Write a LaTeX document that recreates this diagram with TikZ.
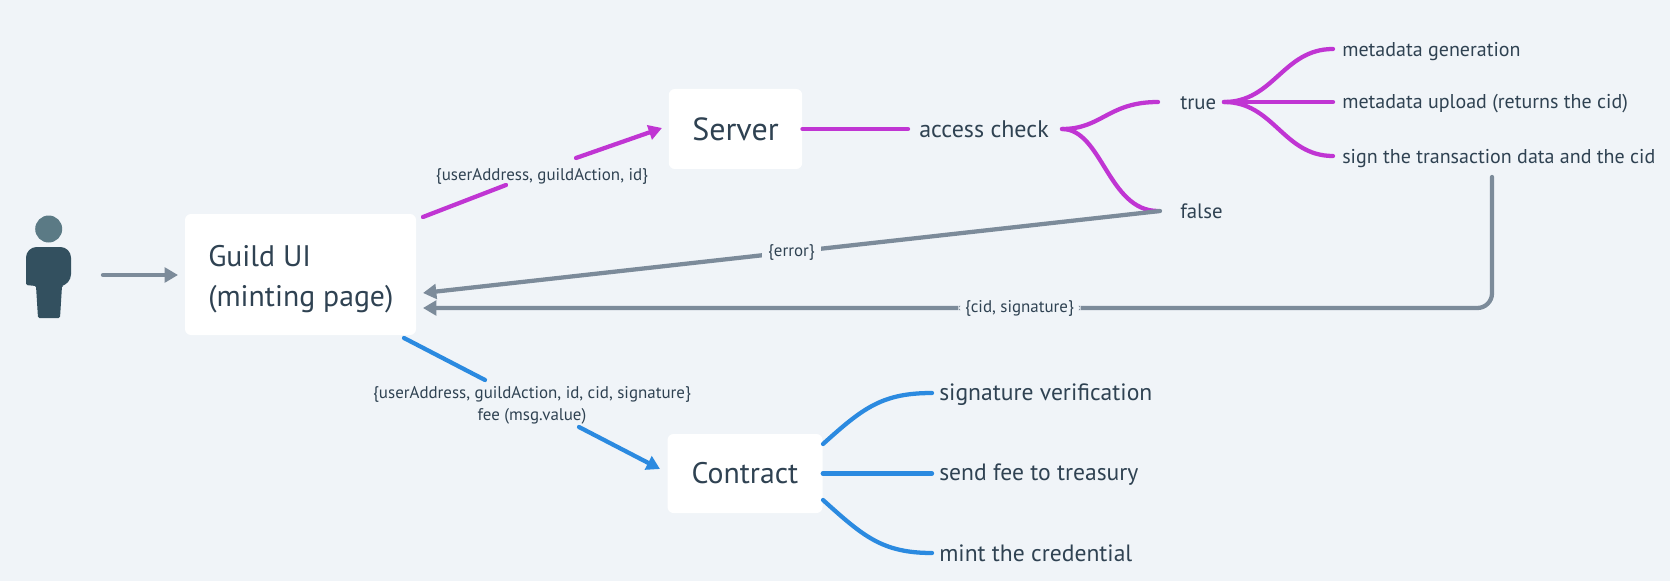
\documentclass[tikz,border=0pt]{standalone}
\usepackage{fontspec}
\setmainfont{PT Sans}
\usetikzlibrary{arrows.meta}
\definecolor{bgc}{HTML}{F0F4F8}
\definecolor{txt}{HTML}{2F4252}
\definecolor{mag}{HTML}{C035D3}
\definecolor{blu}{HTML}{2B8AE0}
\definecolor{gry}{HTML}{7C8B9A}
\definecolor{head}{HTML}{5B7A85}
\definecolor{bod}{HTML}{33505F}
\tikzset{
  x=0.75pt,y=-0.75pt,
  box/.style={fill=white,rounded corners=4.5pt,inner sep=0pt,text=txt},
  big/.style={font=\fontsize{22.3}{30}\selectfont},
  item/.style={anchor=west,inner sep=0pt,text=txt,font=\fontsize{17.7}{21}\selectfont},
  small/.style={anchor=west,inner sep=0pt,text=txt,font=\fontsize{15}{19}\selectfont},
  lab/.style={inner sep=0pt,text=txt,align=center,font=\fontsize{12.7}{16.5}\selectfont},
  gaplab/.style={lab,fill=bgc,inner xsep=5pt,inner ysep=1pt},
  conn/.style={line width=3.2pt,line cap=round},
  tip/.style={-{Triangle[length=10pt,width=11pt]}},
  wire/.style={conn,mag},
  bwire/.style={conn,blu},
  gwire/.style={conn,gry},
}
\begin{document}
\begin{tikzpicture}
\useasboundingbox[fill=bgc] (0,0) rectangle (1670,581);
% person
\fill[head] (48.7,229) circle[radius=13.5];
\fill[bod,rounded corners=8pt] (26,285) -- (26,247) -- (71,247) -- (71,285) [rounded corners=1pt] -- (62,286) -- (60,318) -- (38,318) -- (36,286) -- (26,285) -- cycle;
% boxes
\node[box,minimum width=173.25pt,minimum height=90.75pt] (guild) at (300.5,274.5) {};
\node[inner sep=0pt,text=txt,big,anchor=west,align=left] (guildtext) at (208,279) {Guild UI\\(minting page)};
\node[box,big,minimum width=100pt,minimum height=60pt,font=\fontsize{24}{30}\selectfont] (server) at (735.5,129) {Server};
\node[box,big,minimum width=116.25pt,minimum height=59.25pt] (contract) at (745,473.5) {Contract};
\coordinate (personOut) at (103,275);
\coordinate (guildIn) at (178,275);
\coordinate (gTop) at (423,217);
\coordinate (gTopMid) at (506,185);
\coordinate (sMid) at (576,158);
\coordinate (sIn) at (662,128);
\coordinate (gBot) at (404,338);
\coordinate (gBotMid) at (485,380);
\coordinate (cMid) at (579,427);
\coordinate (cIn) at (660,469);
\coordinate (gErr) at (423,293);
\coordinate (gCid) at (423,308);
% text items
\node[item,font=\fontsize{18}{21}\selectfont] (access) at (919,129) {access check};
\node[small,font=\fontsize{15.6}{19}\selectfont] (true) at (1180,103) {true};
\node[small,font=\fontsize{15.6}{19}\selectfont] (false) at (1180,211) {false};
\node[small] (m1) at (1342,52) {metadata generation};
\node[small] (m2) at (1342,104) {metadata upload (returns the cid)};
\node[small] (m3) at (1342,159) {sign the transaction data and the cid};
\node[item] (c1) at (939,395) {signature verification};
\node[item] (c2) at (939,475) {send fee to treasury};
\node[item] (c3) at (939,553) {mint the credential};
\coordinate (aIn) at (908,129);
\coordinate (aOut) at (1062,129);
\coordinate (tIn) at (1158,102);
\coordinate (fIn) at (1158,211);
\coordinate (tOut) at (1224,102);
\coordinate (e1) at (1333,49);
\coordinate (e2) at (1333,102);
\coordinate (e3) at (1333,156);
\coordinate (fOut) at (1160,211);
\coordinate (sig) at (1492,177);
\coordinate (cornerA) at (1492,308);
\coordinate (c1In) at (932,393);
\coordinate (c3In) at (932,553);
\coordinate (c1Out) at (823,444);
\coordinate (c3Out) at (823,500);
% connectors
\draw[gwire,tip] (personOut) -- (guildIn);
\draw[wire] (gTop) -- (gTopMid);
\draw[wire,tip] (sMid) -- (sIn);
\draw[bwire] (gBot) -- (gBotMid);
\draw[bwire,tip] (cMid) -- (cIn);
\draw[wire] (server.east) -- (aIn);
\draw[wire] (aOut) .. controls +(40,0) and +(-50,0) .. (tIn);
\draw[wire] (aOut) .. controls +(40,0) and +(-50,0) .. (fIn);
\draw[wire] (tOut) .. controls +(50,0) and +(-50,0) .. (e1);
\draw[wire] (tOut) -- (e2);
\draw[wire] (tOut) .. controls +(50,0) and +(-50,0) .. (e3);
\draw[gwire,tip] (fOut) -- node[pos=.5,gaplab,yshift=-0.75pt] (err) {\{error\}} (gErr);
\draw[gwire,tip,rounded corners=11pt] (sig) -- (cornerA) -- node[pos=.442,gaplab] (cid) {\raisebox{-1pt}{\{cid, signature\}}} (gCid);
\draw[bwire] (c1Out) .. controls +(40,-36) and +(-50,0) .. (c1In);
\draw[bwire] (contract.east) -- (c1In |- contract.east);
\draw[bwire] (c3Out) .. controls +(40,36) and +(-50,0) .. (c3In);
\node[lab] (l1) at (542,176) {\{userAddress, guildAction, id\}};
\node[lab] (l2) at (532,405) {\{userAddress, guildAction, id, cid, signature\}\\fee (msg.value)};
\end{tikzpicture}
\end{document}
